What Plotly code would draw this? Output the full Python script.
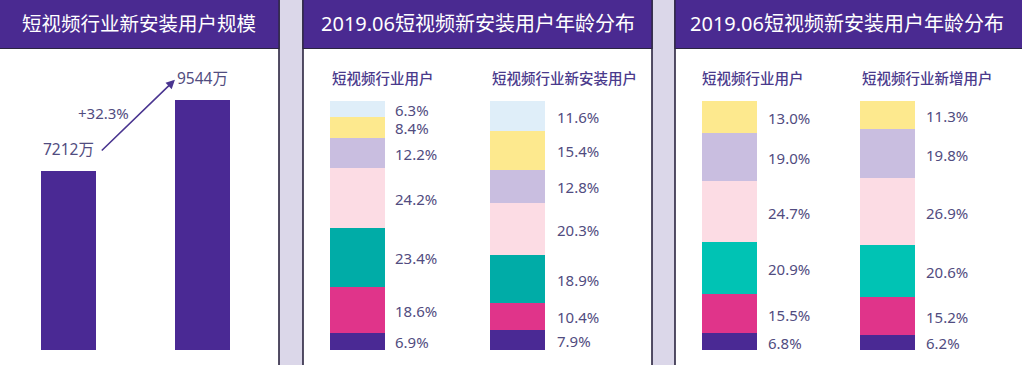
import plotly.graph_objects as go

W, H = 1022, 365

# ---------------- data ----------------
install_x = [0, 1]
install_users = [7212, 9544]          # 万
install_labels = ["7212万", "9544万"]
growth_label = "+32.3%"

panel1_title = "短视频行业新安装用户规模"
panel2_title = "2019.06短视频新安装用户年龄分布"
panel3_title = "2019.06短视频新安装用户年龄分布"

# stacked segments, listed bottom -> top
p2_industry = [6.9, 18.6, 23.4, 24.2, 12.2, 8.4, 6.3]
p2_new_install = [7.9, 10.4, 18.9, 20.3, 12.8, 15.4, 11.6]
p3_industry = [6.8, 15.5, 20.9, 24.7, 19.0, 13.0]
p3_new_added = [6.2, 15.2, 20.6, 26.9, 19.8, 11.3]

sub_p2_left = "短视频行业用户"
sub_p2_right = "短视频行业新安装用户"
sub_p3_left = "短视频行业用户"
sub_p3_right = "短视频行业新增用户"

# ---------------- style ----------------
PURPLE = "#4a2a91"
BAR_PURPLE = "#4a2994"
MAGENTA = "#e0348a"
TEAL2 = "#00aca7"
TEAL3 = "#00c3b4"
PINK = "#fcdce4"
LAV = "#c9bee0"
YELLOW = "#fde98e"
LBLUE = "#dfeef9"
TXT = "#514c80"
SUBTXT = "#4a3a8c"
BORDER = "#2b2540"
GAP_BG = "#dbd7e9"
FONT = "Noto Sans, Noto Sans CJK SC, sans-serif"

colors_p2 = [BAR_PURPLE, MAGENTA, TEAL2, PINK, LAV, YELLOW, LBLUE]
colors_p3 = [BAR_PURPLE, MAGENTA, TEAL3, PINK, LAV, YELLOW]


def px(x):
    return x / W


def py(y):
    return 1 - y / H


fig = go.Figure()

# ---------------- panel 1 : bar chart ----------------
fig.add_trace(go.Bar(x=install_x, y=install_users, width=0.41,
                     marker=dict(color=BAR_PURPLE, line=dict(width=0)),
                     xaxis="x", yaxis="y", showlegend=False, hoverinfo="skip"))

layout = dict(
    width=W, height=H, margin=dict(l=0, r=0, t=0, b=0),
    paper_bgcolor=GAP_BG, plot_bgcolor="rgba(0,0,0,0)",
    barmode="stack", bargap=0, showlegend=False,
    xaxis=dict(domain=[px(0.75), px(269.75)], range=[-0.5, 1.5], visible=False,
               anchor="y", fixedrange=True),
    yaxis=dict(domain=[py(350), py(50)], range=[1330, 11180], visible=False,
               anchor="x", fixedrange=True),
)

annotations = []
for xv, yv, lab in zip(install_x, install_users, install_labels):
    annotations.append(dict(x=xv, y=yv, xref="x", yref="y", text=lab, showarrow=False,
                            xanchor="center", yanchor="bottom", yshift=9,
                            font=dict(family=FONT, size=15.5, color=TXT)))
# growth arrow from bar 1 to bar 2
annotations.append(dict(x=install_x[1] - 0.205, y=install_users[1] + 656,
                        ax=install_x[0] + 0.24, ay=install_users[0] + 620,
                        xref="x", yref="y", axref="x", ayref="y",
                        showarrow=True, arrowhead=2, arrowsize=1.1, arrowwidth=1.6,
                        arrowcolor="#4a3590", text=""))
annotations.append(dict(x=px(103), y=py(113), xref="paper", yref="paper", text=growth_label,
                        showarrow=False, xanchor="center", yanchor="middle",
                        font=dict(family=FONT, size=15, color=TXT)))

# ---------------- stacked bars ----------------
stacks = [
    (p2_industry, colors_p2, 330, 385, 8),
    (p2_new_install, colors_p2, 490, 545, 10),
    (p3_industry, colors_p3, 702, 757, 9),
    (p3_new_added, colors_p3, 860, 915, 9),
]

for k, (vals, cols, x0, x1, shift) in enumerate(stacks, start=2):
    xa, ya = f"x{k}", f"y{k}"
    for v, c in zip(vals, cols):
        fig.add_trace(go.Bar(x=[0], y=[v], width=1, marker=dict(color=c, line=dict(width=0)),
                             xaxis=xa, yaxis=ya, showlegend=False, hoverinfo="skip"))
    total = sum(vals)
    layout[f"xaxis{k}"] = dict(domain=[px(x0), px(x1)], range=[-0.5, 0.5], visible=False,
                               anchor=ya, fixedrange=True)
    layout[f"yaxis{k}"] = dict(domain=[py(350), py(101)], range=[0, total], visible=False,
                               anchor=xa, fixedrange=True)
    cum = 0
    for v in vals:
        mid = cum + v / 2
        cum += v
        annotations.append(dict(x=0.5, y=mid, xref=xa, yref=ya, text=f"{v:.1f}%",
                                showarrow=False, xanchor="left", yanchor="middle",
                                xshift=shift, yshift=-1,
                                font=dict(family=FONT, size=15, color=TXT)))

# subtitles
for text, xl in [(sub_p2_left, 330), (sub_p2_right, 490), (sub_p3_left, 700), (sub_p3_right, 860)]:
    annotations.append(dict(x=px(xl), y=py(78), xref="paper", yref="paper", text=text,
                            showarrow=False, xanchor="left", yanchor="middle",
                            font=dict(family=FONT, size=14.5, color=SUBTXT, weight=500)))

# headers
for text, cx, size in [(panel1_title, 139, 19.5), (panel2_title, 478, 20), (panel3_title, 847, 20)]:
    annotations.append(dict(x=px(cx), y=py(24), xref="paper", yref="paper", text=text,
                            showarrow=False, xanchor="center", yanchor="middle",
                            font=dict(family=FONT, size=size, color="white", weight=400)))

# ---------------- panels (shapes) ----------------
shapes = []
panels = [(-3, 279), (303, 652), (675, W + 3)]
for a, b in panels:
    shapes.append(dict(type="rect", xref="paper", yref="paper", x0=px(a), x1=px(b),
                       y0=py(H + 5), y1=py(-5), fillcolor="white",
                       line=dict(color=BORDER, width=1.6), layer="below"))
    shapes.append(dict(type="rect", xref="paper", yref="paper", x0=px(a), x1=px(b),
                       y0=py(48.5), y1=py(-5), fillcolor=PURPLE,
                       line=dict(color=BORDER, width=1.2), layer="below"))

layout["annotations"] = annotations
layout["shapes"] = shapes
fig.update_layout(**layout)

fig.write_html("out.html", config={"displayModeBar": False},
               post_script="document.body.style.margin='0';document.body.style.overflow='hidden';")
